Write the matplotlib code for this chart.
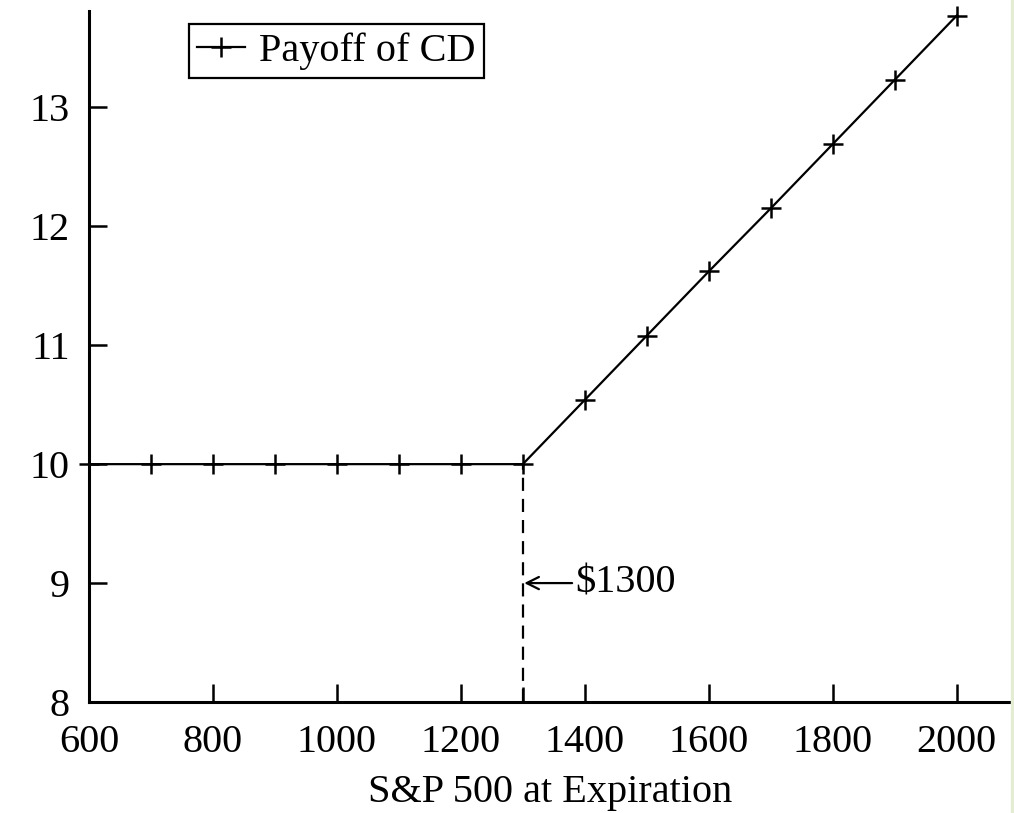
import numpy as np
import matplotlib
matplotlib.use("Agg")
import matplotlib.pyplot as plt
import matplotlib.patches as mpatches

plt.rcParams["font.family"] = ["Liberation Serif", "DejaVu Serif"]

# payoff of the CD at expiration
SP_LEVEL = [600, 700, 800, 900, 1000, 1100, 1200, 1300,
            1400, 1500, 1600, 1700, 1800, 1900, 2000]
PAYOFF   = [10, 10, 10, 10, 10, 10, 10, 10,
            10.54, 11.08, 11.62, 12.15, 12.69, 13.23, 13.77]
STRIKE   = 1300
X_TICKS  = [600, 800, 1000, 1200, 1400, 1600, 1800, 2000]
Y_TICKS  = [8, 9, 10, 11, 12, 13]

FS = 29

fig = plt.figure(figsize=(10.14, 8.13), dpi=100)
ax = fig.add_axes([0.0878, 0.1365, 0.910, 0.850])

ax.plot(SP_LEVEL, PAYOFF, color="black", lw=1.6, marker="+", ms=14,
        mew=1.8, clip_on=False, label="Payoff of CD", zorder=3)

# dashed drop line at the strike
ax.plot([STRIKE, STRIKE], [8, 10], color="black", lw=1.6, ls=(0, (5.9, 3.6)))

ax.annotate("\\$1300", xy=(STRIKE, 9), xytext=(1384, 9),
            fontsize=FS, va="center", ha="left",
            arrowprops=dict(arrowstyle="->", color="black", lw=1.6,
                            mutation_scale=22, shrinkA=0, shrinkB=1))

ax.set_xlim(600, 2089)
ax.set_ylim(8, 13.81)
ax.set_xticks(X_TICKS)
ax.set_xticks([STRIKE], minor=True)
ax.set_yticks(Y_TICKS)
ax.tick_params(direction="in", length=13, width=1.8, labelsize=FS)
ax.tick_params(axis="x", pad=16)
ax.tick_params(axis="y", pad=14)
ax.tick_params(axis="x", which="minor", direction="in", length=11, width=1.8)
ax.set_xlabel("S&P 500 at Expiration", fontsize=FS, labelpad=9)

ax.spines[["top", "right"]].set_visible(False)
for s in ["left", "bottom"]:
    ax.spines[s].set_linewidth(2.2)

leg = ax.legend(loc="upper left", bbox_to_anchor=(0.108, 0.981), fontsize=FS,
                handlelength=1.2, handletextpad=0.35, borderpad=0.2,
                fancybox=False, framealpha=1, borderaxespad=0.0)
leg.get_frame().set_edgecolor("black")
leg.get_frame().set_linewidth(1.6)

# thin tinted strip on the right edge of the image
fig.patches.append(mpatches.Rectangle((0.9975, 0), 0.0025, 1,
                   transform=fig.transFigure, color="#e4edd3", zorder=0))

fig.savefig("out.png", dpi=100)
